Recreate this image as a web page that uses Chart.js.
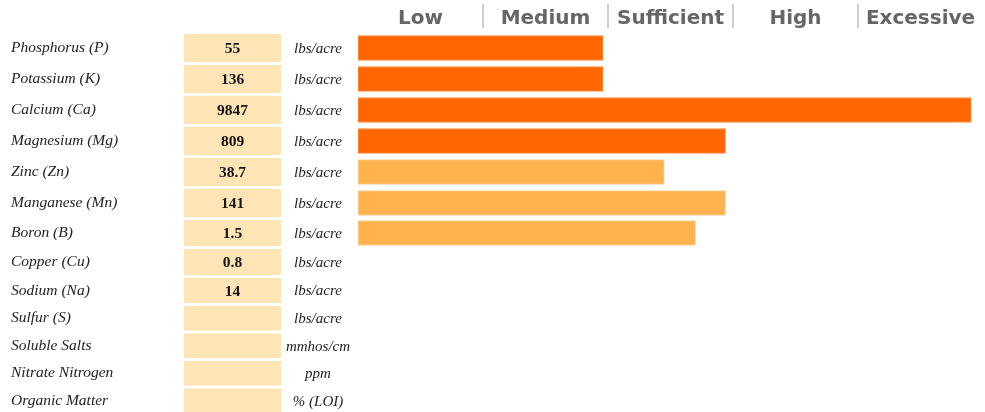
<!DOCTYPE html>
<html>
<head>
<meta charset="utf-8">
<script src="https://cdn.jsdelivr.net/npm/chart.js@4.4.1/dist/chart.umd.min.js"></script>
<style>
  html, body { margin: 0; padding: 0; background: #ffffff; }
  #wrap { position: relative; width: 985px; height: 412px; }
</style>
</head>
<body>
<div id="wrap"><canvas id="chart"></canvas></div>
<script>
// ---------- data ----------
const nutrients = ['Phosphorus (P)', 'Potassium (K)', 'Calcium (Ca)', 'Magnesium (Mg)', 'Zinc (Zn)',
  'Manganese (Mn)', 'Boron (B)', 'Copper (Cu)', 'Sodium (Na)', 'Sulfur (S)', 'Soluble Salts',
  'Nitrate Nitrogen', 'Organic Matter'];
const testResults = ['55', '136', '9847', '809', '38.7', '141', '1.5', '0.8', '14', '', '', '', ''];
const units = ['lbs/acre', 'lbs/acre', 'lbs/acre', 'lbs/acre', 'lbs/acre', 'lbs/acre', 'lbs/acre',
  'lbs/acre', 'lbs/acre', 'lbs/acre', 'mmhos/cm', 'ppm', '% (LOI)'];
// position on the Low..Excessive rating scale (0-100)
const ratingLevel = [39.2, 39.2, 98.1, 58.8, 49, 58.8, 54, null, null, null, null, null, null];
const nutrientGroup = ['major', 'major', 'major', 'major', 'micro', 'micro', 'micro', 'micro',
  'micro', 'micro', 'other', 'other', 'other'];
const levelNames = ['Low', 'Medium', 'Sufficient', 'High', 'Excessive'];
const levelBounds = [0, 20, 40, 60, 80, 100];

// ---------- layout / style ----------
const rowPitch = [31, 31, 31, 31, 31, 31, 29, 29, 28, 27.5, 27.5, 27.5, 27.5];
const groupFill = { major: '#FF6600', micro: '#FFB24D', other: '#FFB24D' };
const groupBorder = { major: '#FF8A3D', micro: '#FFD39A', other: '#FFD39A' };

class RowScale extends Chart.CategoryScale {
  getPixelForValue(value) {
    if (typeof value !== 'number') value = this.parse(value);
    if (value === null || isNaN(value)) return NaN;
    const i = Math.round(value);
    let y = this.top;
    for (let k = 0; k < i; k++) y += rowPitch[k];
    return y + rowPitch[i] / 2;
  }
}
RowScale.id = 'rows';
RowScale.defaults = Chart.CategoryScale.defaults;
Chart.register(RowScale);

const tablePlugin = {
  id: 'soilTable',
  beforeDatasetsDraw(chart) {
    const ctx = chart.ctx;
    const y = chart.scales.y;
    const x = chart.scales.x;
    ctx.save();
    // value boxes, values, units
    for (let i = 0; i < nutrients.length; i++) {
      const cy = y.getPixelForValue(i);
      const h = rowPitch[i] - 3;
      ctx.fillStyle = '#FFE4B5';
      ctx.fillRect(184, cy - h / 2, 97, h);
      ctx.textBaseline = 'middle';
      if (testResults[i] !== '') {
        ctx.fillStyle = '#151515';
        ctx.font = 'bold 15.5px "Liberation Serif", serif';
        ctx.textAlign = 'center';
        ctx.fillText(testResults[i], 232.5, cy + 1);
      }
      ctx.fillStyle = '#222';
      ctx.font = 'italic 15px "Liberation Serif", serif';
      ctx.textAlign = 'center';
      ctx.fillText(units[i], 318, cy + 1);
    }
    // header: rating levels
    ctx.strokeStyle = '#cfcfcf';
    ctx.lineWidth = 2;
    for (let k = 1; k < levelBounds.length - 1; k++) {
      const px = Math.round(x.getPixelForValue(levelBounds[k]));
      ctx.beginPath();
      ctx.moveTo(px, 4);
      ctx.lineTo(px, 28);
      ctx.stroke();
    }
    ctx.fillStyle = '#666666';
    ctx.font = 'bold 20px "DejaVu Sans", sans-serif';
    ctx.textAlign = 'center';
    ctx.textBaseline = 'alphabetic';
    for (let k = 0; k < levelNames.length; k++) {
      const cx = (x.getPixelForValue(levelBounds[k]) + x.getPixelForValue(levelBounds[k + 1])) / 2;
      ctx.fillText(levelNames[k], cx, 24);
    }
    ctx.restore();
  }
};

new Chart(document.getElementById('chart'), {
  type: 'bar',
  data: {
    labels: nutrients,
    datasets: [{
      data: ratingLevel,
      backgroundColor: nutrientGroup.map(g => groupFill[g]),
      borderColor: nutrientGroup.map(g => groupBorder[g]),
      borderWidth: 1,
      borderSkipped: false,
      barThickness: 25
    }]
  },
  options: {
    indexAxis: 'y',
    responsive: true,
    maintainAspectRatio: false,
    devicePixelRatio: 1,
    animation: false,
    events: [],
    layout: { padding: { top: 32.5, left: 11, right: 2, bottom: 0 } },
    plugins: { legend: { display: false }, tooltip: { enabled: false } },
    scales: {
      x: { type: 'linear', min: 0, max: 100, display: false },
      y: {
        type: 'rows',
        grid: { display: false },
        border: { display: false },
        afterFit(scale) { scale.width = 347; },
        ticks: {
          autoSkip: false,
          crossAlign: 'far',
          padding: 0,
          color: '#222',
          font: { family: '"Liberation Serif", serif', style: 'italic', size: 15.5 }
        }
      }
    }
  },
  plugins: [tablePlugin]
});
</script>
</body>
</html>
